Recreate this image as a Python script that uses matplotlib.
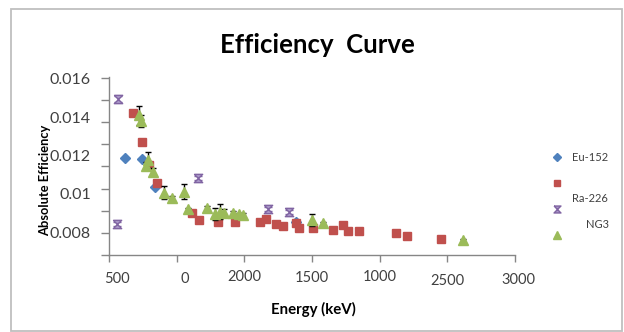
import numpy as np
import matplotlib
matplotlib.use("Agg")
import matplotlib.pyplot as plt
from matplotlib.path import Path
from matplotlib.lines import Line2D
from matplotlib.patches import Rectangle
import matplotlib.transforms as mtransforms

plt.rcParams['font.family'] = ['Lato', 'DejaVu Sans']

# ---- data ----
eu_x = [118, 242, 340, 1380]
eu_y = [0.01185, 0.0118, 0.01037, 0.00854]

ra_x = [180, 242, 298, 352, 611, 667, 808, 931, 1116, 1158, 1234, 1284, 1380, 1406,
        1510, 1658, 1732, 1769, 1848, 2121, 2205, 2451]
ra_y = [0.01424, 0.01269, 0.0115, 0.01055, 0.00898, 0.00863, 0.00851, 0.00851, 0.00851,
        0.00868, 0.00842, 0.00831, 0.00849, 0.00819, 0.00822, 0.0081, 0.00836, 0.00807,
        0.00807, 0.00793, 0.00779, 0.00762]

s3_x = [57, 69, 660, 1177, 1330]
s3_y = [0.0084, 0.01494, 0.01084, 0.0092, 0.00903]
s3_err = [0.0001, 0.00015, 0.0001, 0.0001, 0.0001]

ng_x = [225, 238, 271, 291, 327, 406, 463, 557, 581, 722, 786, 820, 852, 914, 963, 988,
        1498, 1584, 2614]
ng_y = [0.0141, 0.0138, 0.01145, 0.01176, 0.01115, 0.01005, 0.00979, 0.01011, 0.00918,
        0.00924, 0.00894, 0.00906, 0.00898, 0.00898, 0.00892, 0.00889, 0.00863, 0.00845,
        0.00758]
ng_err = [0.0005, 0.0003, 0.0002, 0.0004, 0.0002, 0.00035, 0.0001, 0.0004, 0.0001,
          0.0001, 0.0003, 0.0004, 0.0002, 0.0001, 0.0001, 0.0001, 0.0003, 0.0001, 0.00005]

x_tick_labels = ["500", "0", "2000", "1500", "1000", "2500", "3000"]
y_tick_values = [0.016, 0.014, 0.012, 0.010, 0.008]
y_tick_labels = ["0.016", "0.014", "0.012", "0.01", "0.008"]

legend_labels = ["Eu-152", "Ra-226", "NG3"]

# ---- style ----
c_eu = '#4F81BD'
c_ra = '#C0504D'
c_s3 = '#8064A2'
c_ng = '#9BBB59'
hourglass = Path([(-1, 1), (1, 1), (0, 0), (1, -1), (-1, -1), (0, 0), (-1, 1)])

W, H = 624, 332
fig = plt.figure(figsize=(W / 100, H / 100), dpi=100)
ax = fig.add_axes([109 / W, 1 - 255 / H, 406 / W, 178 / H])

ax.plot(eu_x, eu_y, linestyle='none', marker='D', markersize=5, color=c_eu, zorder=3)
ax.plot(ra_x, ra_y, linestyle='none', marker='s', markersize=6, color=c_ra, zorder=4)
ax.errorbar(s3_x, s3_y, yerr=s3_err, fmt='none', ecolor=c_s3, elinewidth=1,
            capsize=3, zorder=5)
ax.plot(s3_x, s3_y, linestyle='none', marker=hourglass, markersize=6,
        markerfacecolor='#A996C8', markeredgecolor=c_s3, markeredgewidth=1, zorder=5)
ax.errorbar(ng_x, ng_y, yerr=ng_err, fmt='none', ecolor='black', elinewidth=1,
            capsize=2.5, zorder=6)
ax.plot(ng_x, ng_y, linestyle='none', marker='^', markersize=7, color=c_ng, zorder=7)

ax.set_xlim(0, 3000)
ax.set_ylim(0.0068, 0.0161)

ax.set_xticks(np.arange(0, 3001, 500))
ax.set_xticklabels(x_tick_labels)
ax.set_yticks(y_tick_values)
ax.set_yticklabels(y_tick_labels)
ax.set_yticks(np.linspace(0.0068, 0.01605, 9), minor=True)

ax.tick_params(axis='x', which='major', direction='out', length=5, width=1,
               color='#868686', labelsize=10.5, labelcolor='#404040', pad=6)
ax.tick_params(axis='y', which='major', length=0, labelsize=11.5,
               labelcolor='#404040', pad=13)
ax.tick_params(axis='y', which='minor', direction='out', length=6, width=1,
               color='#868686')

for sp in ['top', 'right']:
    ax.spines[sp].set_visible(False)
for sp in ['left', 'bottom']:
    ax.spines[sp].set_color('#868686')
    ax.spines[sp].set_linewidth(1)

# per-label offsets (px) to mimic the reference placement
x_off = [(8, -2), (8, -2), (0, 0), (0, -1), (0, 0), (0, -4), (3, -3)]
for lab, (dx, dy) in zip(ax.get_xticklabels(), x_off):
    off = mtransforms.ScaledTranslation(dx / 100, dy / 100, fig.dpi_scale_trans)
    lab.set_transform(lab.get_transform() + off)

fig.text(317 / W, 1 - 45 / H, "Efficiency  Curve", ha='center', va='center',
         fontsize=18.5, fontweight='bold', color='black')
fig.text(45 / W, 1 - 180 / H, "Absolute Efficiency", ha='center', va='center',
         rotation=90, fontsize=9.3, fontweight='bold', color='black')
fig.text(313 / W, 1 - 309 / H, "Energy (keV)", ha='center', va='center',
         fontsize=10.8, fontweight='bold', color='black')

# legend
handles = [
    Line2D([], [], linestyle='none', marker='D', markersize=4, color=c_eu),
    Line2D([], [], linestyle='none', marker='s', markersize=5, color=c_ra),
    Line2D([], [], linestyle='none', marker=hourglass, markersize=5,
           markerfacecolor='#A996C8', markeredgecolor=c_s3),
    Line2D([], [], linestyle='none', marker='^', markersize=6, color=c_ng),
]
leg = fig.legend(handles, [legend_labels[0], ' ', ' ', ' '], loc='upper left',
                 bbox_to_anchor=(553 / W, 1 - 152 / H), frameon=False,
                 fontsize=8, labelspacing=1.35, handlelength=0.8,
                 handletextpad=0.95, borderpad=0, borderaxespad=0)
for t in leg.get_texts():
    t.set_color('#404040')
fig.text(572 / W, 1 - 198 / H, legend_labels[1], ha='left', va='center',
         fontsize=8, color='#404040')
fig.text(586 / W, 1 - 224 / H, legend_labels[2], ha='left', va='center',
         fontsize=8, color='#404040')

fig.patches.append(Rectangle((11 / W, 1 - 331 / H), 611 / W, 322 / H,
                             transform=fig.transFigure, fill=False,
                             edgecolor='#BFBFBF', linewidth=1.3))

fig.savefig("out.png", dpi=100)
